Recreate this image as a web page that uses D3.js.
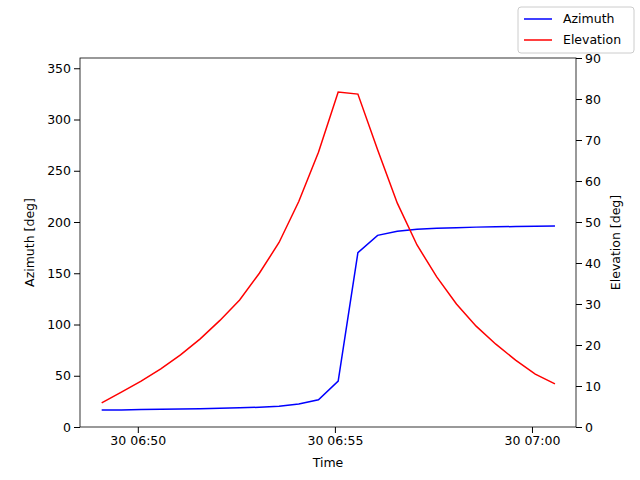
<!DOCTYPE html>
<html><head><meta charset="utf-8">
<script src="https://cdn.jsdelivr.net/npm/d3@7"></script>
<style>body{margin:0;background:#fff}text{font-family:"DejaVu Sans",sans-serif;font-size:12.5px}</style>
</head><body>
<script>
// 30 s samples starting 06:49:05
var startTime = new Date(2024, 0, 30, 6, 49, 5);
var azimuth = [16.5, 16.7, 17.0, 17.3, 17.6, 17.9, 18.3, 18.7, 19.3, 20.3, 22.4, 26.5, 44.8, 170, 187, 191, 193, 194, 194.5, 195, 195.3, 195.6, 195.8, 196];
var elevation = [5.9, 8.5, 11.2, 14.2, 17.6, 21.5, 26, 31, 37.5, 45, 55, 67, 81.7, 81.2, 67.6, 54.6, 44.4, 36.6, 30, 24.6, 20.2, 16.3, 12.9, 10.5];
var times = azimuth.map(function(d, i) { return new Date(startTime.getTime() + i * 30000); });
var xTicks = [new Date(2024, 0, 30, 6, 50), new Date(2024, 0, 30, 6, 55), new Date(2024, 0, 30, 7, 0)];

var L = 80, R = 576, T = 58, B = 427;
var svg = d3.select('body').append('svg').attr('width', 640).attr('height', 480);

var x = d3.scaleTime().domain([new Date(2024,0,30,6,48,32), new Date(2024,0,30,7,1,7)]).range([L, R]);
var yL = d3.scaleLinear().domain([0, 360]).range([B, T]);
var yR = d3.scaleLinear().domain([0, 90]).range([B, T]);

svg.append('g').attr('transform', 'translate(0,' + B + ')')
  .call(d3.axisBottom(x).tickValues(xTicks).tickSizeOuter(0).tickFormat(function(d) { return '30 ' + d3.timeFormat('%H:%M')(d); }));
svg.append('g').attr('transform', 'translate(' + L + ',0)')
  .call(d3.axisLeft(yL).tickValues(d3.range(0, 351, 50)).tickSizeOuter(0));
svg.append('g').attr('transform', 'translate(' + R + ',0)')
  .call(d3.axisRight(yR).tickValues(d3.range(0, 91, 10)).tickSizeOuter(0));
svg.selectAll('.tick text').attr('fill', '#000').style('font-size', '12.5px').attr('font-family', null);
svg.selectAll('.domain').remove();
svg.append('rect').attr('x', L).attr('y', T).attr('width', R - L).attr('height', B - T)
  .attr('fill', 'none').attr('stroke', '#000').attr('stroke-width', 0.8);

svg.append('path').datum(azimuth).attr('fill', 'none').attr('stroke', 'blue').attr('stroke-width', 1.5)
  .attr('d', d3.line().x(function(d, i) { return x(times[i]); }).y(function(d) { return yL(d); }));
svg.append('path').datum(elevation).attr('fill', 'none').attr('stroke', 'red').attr('stroke-width', 1.5)
  .attr('d', d3.line().x(function(d, i) { return x(times[i]); }).y(function(d) { return yR(d); }));

svg.append('text').attr('x', (L + R) / 2).attr('y', 467).attr('text-anchor', 'middle').text('Time');
svg.append('text').attr('transform', 'translate(34,' + (T + B) / 2 + ') rotate(-90)').attr('text-anchor', 'middle').text('Azimuth [deg]');
svg.append('text').attr('transform', 'translate(620,' + (T + B) / 2 + ') rotate(-90)').attr('text-anchor', 'middle').text('Elevation [deg]');

var lg = svg.append('g').attr('transform', 'translate(518,7)');
lg.append('rect').attr('width', 116).attr('height', 46).attr('rx', 3).attr('fill', '#fff').attr('stroke', '#ccc');
[['Azimuth', 'blue'], ['Elevation', 'red']].forEach(function(s, i) {
  var y = 12 + i * 21;
  lg.append('line').attr('x1', 6).attr('x2', 34).attr('y1', y).attr('y2', y).attr('stroke', s[1]).attr('stroke-width', 1.5);
  lg.append('text').attr('x', 45).attr('y', y + 4).text(s[0]);
});
</script>
</body></html>
